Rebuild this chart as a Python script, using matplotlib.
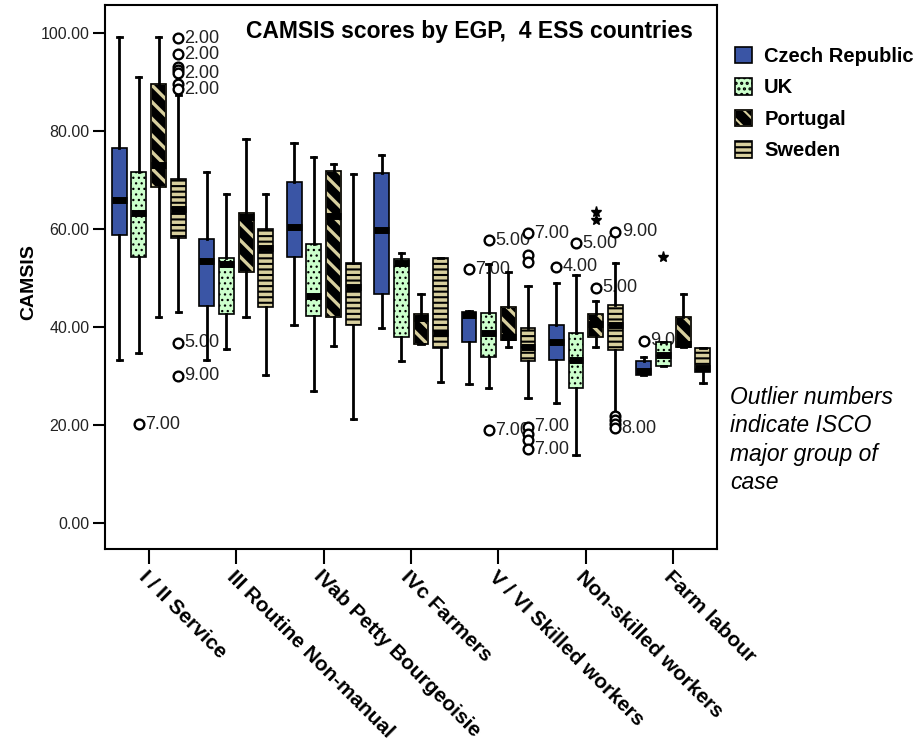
import numpy as np
import matplotlib
matplotlib.use("Agg")
import matplotlib.pyplot as plt
from matplotlib.patches import Patch, PathPatch
from matplotlib.ticker import FormatStrFormatter

plt.rcParams["font.family"] = ["Liberation Sans", "DejaVu Sans"]
plt.rcParams["hatch.linewidth"] = 1.5

# EGP classes on the x axis
groups = ["I / II Service", "III Routine Non-manual", "IVab Petty Bourgeoisie",
          "IVc Farmers", "V / VI Skilled workers", "Non-skilled workers", "Farm labour"]
countries = ["Czech Republic", "UK", "Portugal", "Sweden"]

# per class: whisker low, q1, median, q3, whisker high
czech = [[33.2, 58.7, 65.9, 76.4, 99.2],
         [33.2, 44.2, 53.5, 57.9, 71.5],
         [40.3, 54.2, 60.3, 69.5, 77.4],
         [39.7, 46.6, 59.7, 71.4, 75.0],
         [28.4, 36.9, 42.3, 42.9, 43.2],
         [24.5, 33.2, 36.9, 40.3, 48.9],
         [30.1, 30.1, 31.0, 33.0, 33.9]]
uk = [[34.7, 54.2, 63.3, 71.5, 90.9],
      [35.4, 42.6, 52.7, 54.1, 67.1],
      [26.9, 42.2, 46.3, 56.9, 74.7],
      [33.1, 37.8, 53.0, 53.8, 55.0],
      [27.4, 33.9, 38.7, 42.7, 52.8],
      [13.8, 27.4, 33.2, 38.7, 50.6],
      [32.0, 32.0, 34.3, 36.9, 36.9]]
portugal = [[42.0, 68.6, 73.0, 89.5, 99.2],
            [42.0, 51.1, 62.3, 63.3, 78.4],
            [36.1, 41.9, 62.5, 71.8, 73.2],
            [36.5, 36.5, 41.8, 42.6, 46.7],
            [35.9, 37.3, 37.8, 44.1, 51.2],
            [35.9, 38.0, 40.6, 42.6, 45.2],
            [35.8, 35.8, 36.5, 41.9, 46.7]]
sweden = [[42.9, 58.2, 64.0, 70.1, 87.3],
          [30.1, 44.0, 56.0, 59.9, 67.1],
          [21.1, 40.3, 48.2, 53.1, 71.1],
          [28.8, 35.6, 38.8, 54.0, 54.1],
          [25.5, 33.1, 35.9, 39.7, 48.3],
          [22.3, 35.2, 40.3, 44.4, 53.1],
          [28.6, 30.8, 31.5, 35.7, 35.7]]

# outliers: (class index, value, ISCO label or None)
czech_out = [(4, 51.7, "7.00"), (5, 52.2, "4.00"), (6, 37.1, "9.00")]
uk_out = [(0, 20.1, "7.00"), (4, 57.6, "5.00"), (4, 18.9, "7.00"), (5, 57.0, "5.00")]
portugal_out = [(5, 48.0, "5.00")]
sweden_out = [(0, 98.9, "2.00"), (0, 95.6, "2.00"), (0, 93.1, None), (0, 92.4, None),
              (0, 91.7, "2.00"), (0, 89.6, None), (0, 88.5, "2.00"),
              (0, 36.7, "5.00"), (0, 30.0, "9.00"),
              (4, 59.1, "7.00"), (4, 54.6, None), (4, 53.3, None),
              (4, 19.6, "7.00"), (4, 18.2, None), (4, 16.9, None), (4, 15.0, "7.00"),
              (5, 59.4, "9.00"), (5, 21.8, None), (5, 21.0, None), (5, 20.1, None),
              (5, 19.3, "8.00")]
# extreme values (drawn as stars)
uk_ext = [(6, 54.3)]
portugal_ext = [(5, 63.5), (5, 61.8)]

series = [czech, uk, portugal, sweden]
outs = [czech_out, uk_out, portugal_out, sweden_out]
exts = [[], uk_ext, portugal_ext, []]

KHAKI = "#D8CF9E"
offsets = [-0.338, -0.113, 0.113, 0.338]
faces = ["#3A55A5", "#CCFFCC", "black", KHAKI]
hatch_col = ["black", "black", KHAKI, "black"]   # hatch follows edge colour
hatches = [None, "...", "\\\\", "---"]
hatch_lw = [1.5, 0.9, 2.4, 1.5]

fig = plt.figure(figsize=(9.23, 7.4), dpi=100)
ax = fig.add_axes([0.1138, 0.2581, 0.6631, 0.7351])

for k, data in enumerate(series):
    plt.rcParams["hatch.linewidth"] = hatch_lw[k]
    stats = [dict(whislo=s[0], q1=s[1], med=s[2], q3=s[3], whishi=s[4], fliers=[])
             for s in data]
    pos = np.arange(len(groups)) + offsets[k]
    bp = ax.bxp(stats, positions=pos, widths=0.17, capwidths=0.06,
                patch_artist=True, showfliers=False, manage_ticks=False,
                boxprops=dict(facecolor=faces[k], edgecolor=hatch_col[k],
                              linewidth=1.2, hatch=hatches[k]),
                medianprops=dict(color="black", linewidth=5, solid_capstyle="butt"),
                whiskerprops=dict(color="black", linewidth=2),
                capprops=dict(color="black", linewidth=2))
    if hatch_col[k] != "black":
        # khaki stripes on black: redraw the outline in black
        for b in bp["boxes"]:
            ax.add_patch(PathPatch(b.get_path(), fill=False, edgecolor="black",
                                   linewidth=1.2, zorder=2.05))

    for g, v, lab in outs[k]:
        x = g + offsets[k]
        ax.plot(x, v, "o", mfc="white", mec="black", ms=7, mew=1.7, zorder=4)
        if lab:
            ax.annotate(lab, (x, v), xytext=(4.5, 0), textcoords="offset points",
                        ha="left", va="center", fontsize=13, color="#222222",
                        zorder=1.5)
    for g, v in exts[k]:
        ax.plot(g + offsets[k], v, "*", color="black", ms=8, zorder=4)

ax.set_xlim(-0.5, 6.5)
ax.set_ylim(-5.37, 105.65)
ax.set_xticks(range(len(groups)))
ax.set_xticklabels(groups, rotation=-45, ha="left", va="top",
                   rotation_mode="anchor", fontsize=15, fontweight="bold")
ax.set_yticks(np.arange(0, 101, 20))
ax.yaxis.set_major_formatter(FormatStrFormatter("%.2f"))
ax.tick_params(axis="x", length=11, width=1.5, pad=2)
ax.tick_params(axis="y", length=8.6, width=1.5, pad=2.5, labelsize=11.5,
               labelcolor="#222222")
for sp in ax.spines.values():
    sp.set_linewidth(1.5)

ax.set_ylabel("CAMSIS", fontsize=14, fontweight="bold")
ax.yaxis.set_label_coords(-0.11, 0.49)

ax.text(0.595, 0.952, "CAMSIS scores by EGP,  4 ESS countries", transform=ax.transAxes,
        ha="center", va="center", fontsize=16.5, fontweight="bold")

handles = []
for k in range(4):
    plt.rcParams["hatch.linewidth"] = hatch_lw[k]
    p = Patch(facecolor=faces[k], edgecolor=hatch_col[k], hatch=hatches[k], linewidth=1.2)
    if hatch_col[k] != "black":
        p = (p, Patch(fill=False, edgecolor="black", linewidth=1.2))
    handles.append(p)
plt.rcParams["hatch.linewidth"] = 1.5
fig.legend(handles, countries, loc="upper left", bbox_to_anchor=(735 / 923, 1 - 47 / 740),
           frameon=False, prop=dict(weight="bold", size=14.5), handlelength=0.85,
           handleheight=0.85, handletextpad=0.6, labelspacing=0.62,
           borderpad=0, borderaxespad=0)

fig.text(730 / 923, 1 - 386 / 740, "Outlier numbers\nindicate ISCO\nmajor group of\ncase",
         fontsize=16.5, style="italic", ha="left", va="top", linespacing=1.3)

fig.savefig("out.png", dpi=100)
